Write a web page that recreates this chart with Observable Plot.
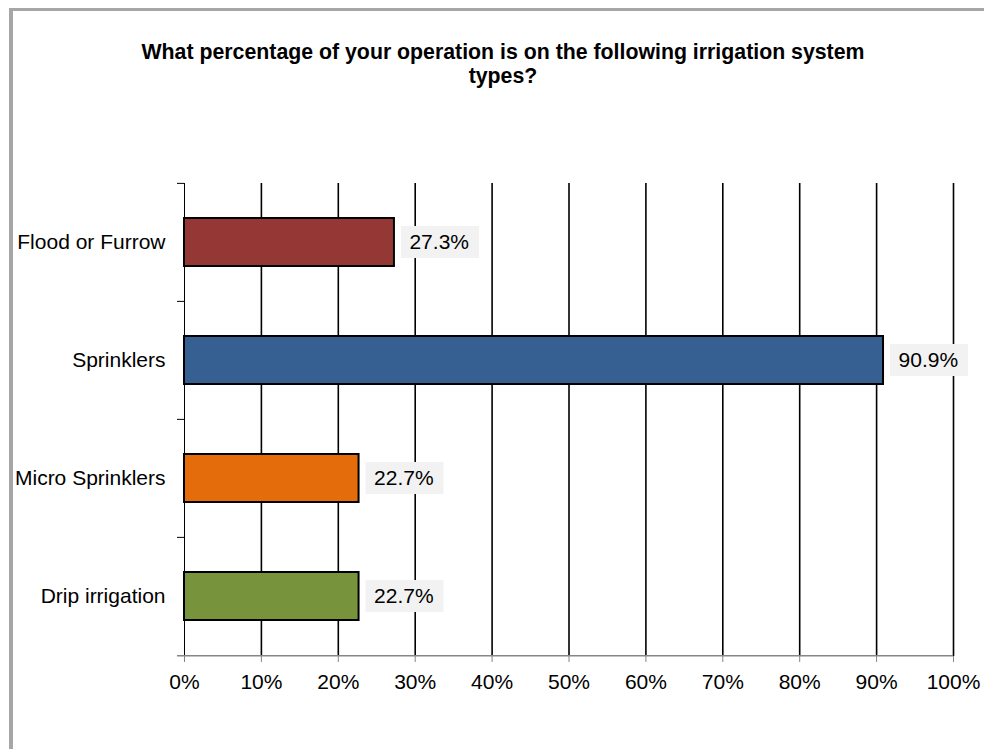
<!DOCTYPE html>
<html>
<head>
<meta charset="utf-8">
<script src="https://cdn.jsdelivr.net/npm/d3@7"></script>
<script src="https://cdn.jsdelivr.net/npm/@observablehq/plot@0.6"></script>
<style>
  body { margin: 0; background: #fff; }
  #wrap { position: relative; width: 984px; height: 749px; overflow: hidden; font-family: "Liberation Sans", Arial, sans-serif; }
  #border { position: absolute; left: 9px; top: 8px; width: 1100px; height: 900px; border-left: 4px solid #a6a6a6; border-top: 3px solid #a6a6a6; box-sizing: border-box; }
  #title { position: absolute; left: 103px; width: 800px; top: 40px; text-align: center; font-weight: bold; font-size: 21.3px; line-height: 24px; color: #000; }
  #chart { position: absolute; left: 0; top: 0; }
</style>
</head>
<body>
<div id="wrap">
  <div id="border"></div>
  <div id="chart"></div>
  <div id="title">What percentage of your operation is on the following irrigation system<br>types?</div>
</div>
<script>
const categories = ["Flood or Furrow", "Sprinklers", "Micro Sprinklers", "Drip irrigation"];
const values = [0.273, 0.909, 0.227, 0.227];
const colors = ["#953735", "#376092", "#E46C0A", "#77933C"];
const xTicks = [0, 0.1, 0.2, 0.3, 0.4, 0.5, 0.6, 0.7, 0.8, 0.9, 1.0];

const data = categories.map((c, i) => ({category: c, value: values[i], color: colors[i]}));

const W = 984, H = 749, mt = 183, mb = 93, ml = 184, mr = 31;
const pad = 0.593;
const step = (H - mt - mb) / categories.length;
const tickLen = 7 / (W - ml - mr); // 7px in data units
const fs = 21;

const plot = Plot.plot({
  width: W,
  height: H,
  marginTop: mt,
  marginBottom: mb,
  marginLeft: ml,
  marginRight: mr,
  style: {fontFamily: "'Liberation Sans', Arial, sans-serif", fontSize: fs + "px", color: "#000", background: "transparent", overflow: "visible"},
  x: {domain: [0, 1], ticks: xTicks, tickFormat: d3.format(".0%")},
  y: {domain: categories, paddingInner: pad, paddingOuter: pad / 2},
  marks: [
    Plot.gridX(xTicks.slice(1), {stroke: "#000", strokeOpacity: 1, strokeWidth: 1.6}),
    Plot.ruleX([0], {stroke: "#000", strokeWidth: 1}),
    Plot.ruleY(categories, {y: d => d, dy: -step / 2, x1: -tickLen, x2: 0, stroke: "#000", strokeWidth: 1}),
    Plot.ruleY(categories.slice(-1), {y: d => d, dy: step / 2, x1: -tickLen, x2: 1, stroke: "#868686", strokeWidth: 1.5}),
    Plot.barX(data, {x: "value", y: "category", fill: "color", stroke: "#000", strokeWidth: 2}),
    Plot.barX(data, {x1: "value", x2: "value", y: "category", fill: "#f2f2f2", insetLeft: 7, insetRight: -85, insetTop: 8, insetBottom: 8}),
    Plot.text(data, {x: "value", y: "category", text: d => d3.format(".1%")(d.value), dx: 15, textAnchor: "start", fontSize: fs, fill: "#000"}),
    Plot.axisX({ticks: xTicks, tickFormat: d3.format(".0%"), tickSize: 6, tickPadding: 12, stroke: "#868686", fill: "#000", fontSize: fs, label: null}),
    Plot.axisY({tickSize: 0, tickPadding: 19, fill: "#000", fontSize: fs, label: null})
  ]
});
document.getElementById("chart").appendChild(plot);
</script>
</body>
</html>
